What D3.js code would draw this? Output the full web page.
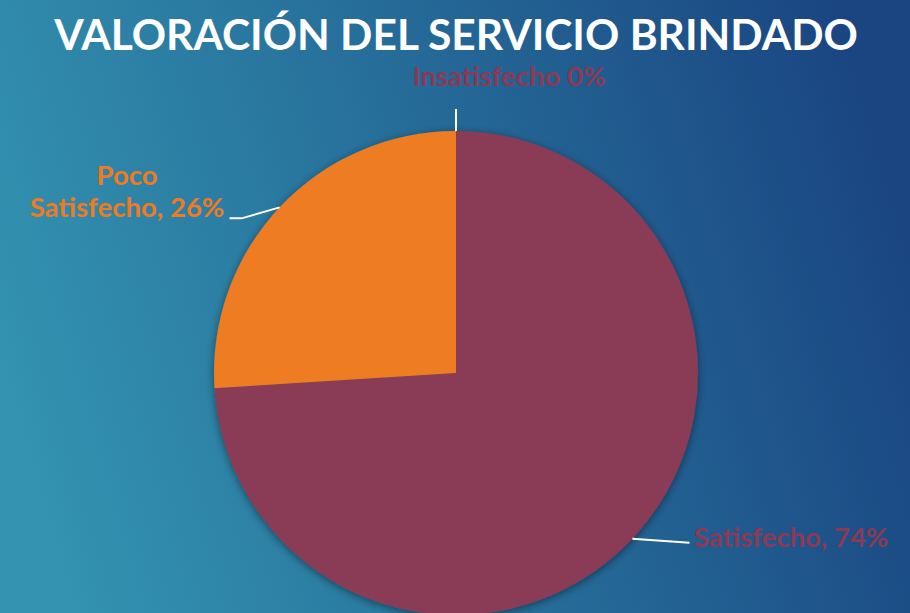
<!DOCTYPE html>
<html>
<head>
<meta charset="utf-8">
<script src="https://cdn.jsdelivr.net/npm/d3@7"></script>
<style>
  html, body { margin: 0; padding: 0; }
  svg { display: block; }
</style>
</head>
<body>
<svg id="chart"></svg>
<script>
//CONSTANTS
const width = 910;
const height = 613;
const title = "VALORACIÓN DEL SERVICIO BRINDADO";

//DATA
const categories = ["Insatisfecho", "Satisfecho", "Poco Satisfecho"];
const values = [0, 74, 26];
const labelLines = [["Insatisfecho 0%"], ["Satisfecho, 74%"], ["Poco", "Satisfecho, 26%"]];
const colors = ["#8a3a55", "#8a3a55", "#ee7b22"];

const cx = 456, cy = 373, radius = 242;

var chart = d3.select("#chart")
  .attr("width", width)
  .attr("height", height);

var defs = chart.append("defs");
var grad = defs.append("linearGradient")
  .attr("id", "bg")
  .attr("x1", "0").attr("y1", "0.6")
  .attr("x2", "1").attr("y2", "0.4");
grad.append("stop").attr("offset", "0").attr("stop-color", "#3393b0");
grad.append("stop").attr("offset", "0.45").attr("stop-color", "#27719c");
grad.append("stop").attr("offset", "1").attr("stop-color", "#1a4581");

var shadow = defs.append("filter").attr("id", "shadow")
  .attr("x", "-20%").attr("y", "-20%").attr("width", "140%").attr("height", "140%");
shadow.append("feDropShadow")
  .attr("dx", 0).attr("dy", 2).attr("stdDeviation", 4)
  .attr("flood-color", "#000").attr("flood-opacity", 0.45);

chart.append("rect")
  .attr("width", width).attr("height", height)
  .attr("fill", "url(#bg)");

//title
chart.append("text")
  .attr("x", width / 2 + 1)
  .attr("y", 50)
  .attr("text-anchor", "middle")
  .attr("fill", "#ffffff")
  .style("font-family", "Lato, sans-serif")
  .style("font-weight", "bold")
  .style("font-size", "42.5px")
  .text(title);

//pie
var pie = d3.pie().sort(null).value((d) => d);
var arcs = pie(values);
var arc = d3.arc().innerRadius(0).outerRadius(radius);

var g = chart.append("g")
  .attr("transform", "translate(" + cx + "," + cy + ")");

g.append("g").attr("filter", "url(#shadow)")
  .selectAll("path").data(arcs).enter().append("path")
  .attr("d", arc)
  .attr("fill", (d, i) => colors[i]);

// leader lines from slice mid-angles
function edgePoint(a, r) { return [Math.sin(a) * r, -Math.cos(a) * r]; }

var satMid = (arcs[1].startAngle + arcs[1].endAngle) / 2;
var pocoMid = (arcs[2].startAngle + arcs[2].endAngle) / 2;
var p1 = edgePoint(satMid, radius);
var p2 = edgePoint(pocoMid, radius);

var lines = [
  [edgePoint(0, radius), edgePoint(0, radius + 22)],
  [p1, [p1[0] + 57, p1[1] + 4]],
  [p2, [p2[0] - 38, p2[1] + 11], [p2[0] - 50, p2[1] + 11]]
];

g.selectAll(".leader").data(lines).enter().append("path")
  .attr("class", "leader")
  .attr("d", (d) => d3.line()(d))
  .attr("fill", "none")
  .attr("stroke", "#ffffff")
  .attr("stroke-width", 2);

//labels
var labelPos = [
  {x: 509, y: 86},
  {x: 791, y: 547},
  {x: 127, y: 185}
];

categories.forEach(function(c, i) {
  var t = chart.append("text")
    .attr("x", labelPos[i].x)
    .attr("y", labelPos[i].y)
    .attr("text-anchor", "middle")
    .attr("fill", colors[i])
    .style("font-family", "Lato, sans-serif")
    .style("font-weight", "bold")
    .style("font-size", "27.5px");
  labelLines[i].forEach(function(line, j) {
    t.append("tspan")
      .attr("x", labelPos[i].x)
      .attr("dy", j === 0 ? 0 : 32)
      .text(line);
  });
});
</script>
</body>
</html>
